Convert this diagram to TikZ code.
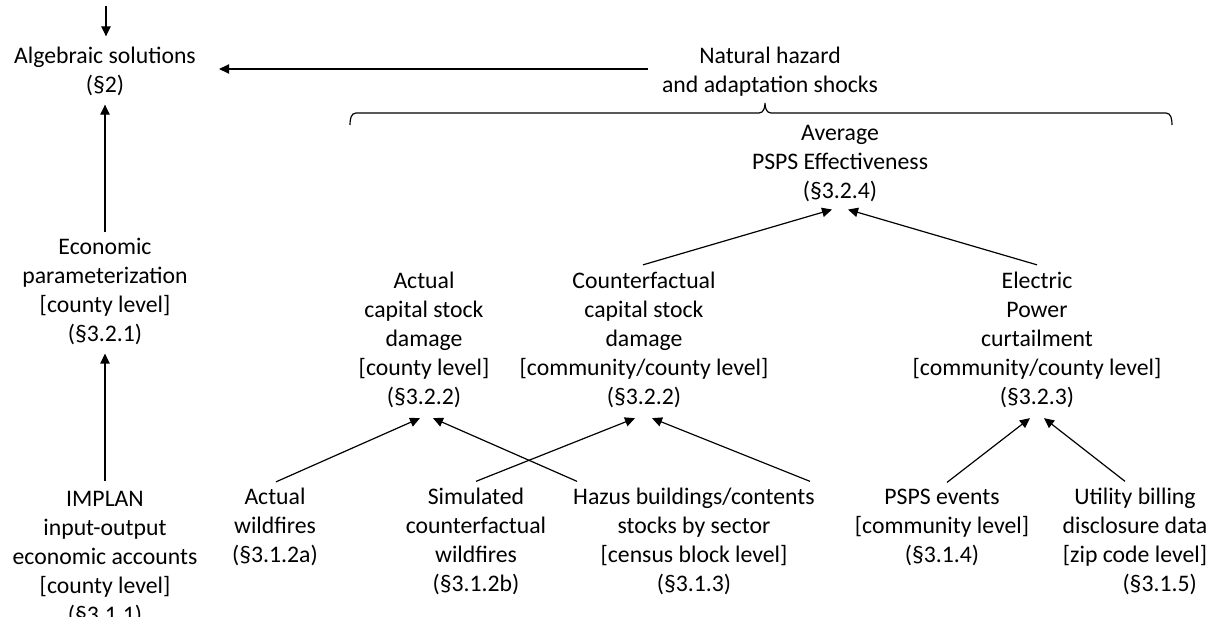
\documentclass[tikz,border=0pt]{standalone}
\usepackage{fontspec}
\setmainfont{Carlito}
\usetikzlibrary{arrows.meta,calc}
\begin{document}
\begin{tikzpicture}[x=0.75pt,y=-0.75pt,
  lbl/.style={align=center,inner sep=0pt,font=\fontsize{17.8pt}{21.75pt}\selectfont},
  conn/.style={line width=0.9pt,-{Triangle[length=7.5pt,width=7pt]}},
  bracestyle/.style={line width=0.9pt}]
\useasboundingbox (0,0) rectangle (1211,617);
% nodes
\node[lbl] (alg) at (105,71) {Algebraic solutions\\(§2)};
\node[lbl] (nat) at (770,72) {Natural hazard\\and adaptation shocks};
\node[lbl] (avg) at (840,164) {Average\\PSPS Effectiveness\\(§3.2.4)};
\node[lbl] (econ) at (105,291) {Economic\\parameterization\\{}[county level]\\(§3.2.1)};
\node[lbl] (act) at (424,340) {Actual\\capital stock\\damage\\{}[county level]\\(§3.2.2)};
\node[lbl] (cf) at (644,340) {Counterfactual\\capital stock\\damage\\{}[community/county level]\\(§3.2.2)};
\node[lbl] (elec) at (1037,340) {Electric\\Power\\curtailment\\{}[community/county level]\\(§3.2.3)};
\node[lbl] (implan) at (105,559) {IMPLAN\\input-output\\economic accounts\\{}[county level]\\(§3.1.1)};
\node[lbl] (aw) at (275,527) {Actual\\wildfires\\(§3.1.2a)};
\node[lbl] (sim) at (476,541) {Simulated\\counterfactual\\wildfires\\(§3.1.2b)};
\node[lbl] (haz) at (694,541) {Hazus buildings/contents\\stocks by sector\\{}[census block level]\\(§3.1.3)};
\node[lbl] (psps) at (942,527) {PSPS events\\{}[community level]\\(§3.1.4)};
\node[lbl] (util) at (1135,541) {Utility billing\\disclosure data\\{}[zip code level]\\\hspace*{37pt}(§3.1.5)};
\coordinate (topin) at (106,6);
% connectors
\draw[conn] (topin) -- ($(alg.north)+(1,-10)$);
\draw[conn] ($(econ.north)+(0,-5)$) -- ($(alg.south)+(0,9)$);
\draw[conn] ($(implan.north)+(0,-10)$) -- ($(econ.south)+(0,9)$);
\draw[conn] ($(nat.west)+(-14,-3)$) -- ($(alg.east)+(23,-2)$);
\draw[conn] ($(cf.north)+(-1,-7)$) -- ($(avg.south)+(-8,7)$);
\draw[conn] ($(elec.north)+(0,-7)$) -- ($(avg.south)+(8,7)$);
\draw[conn] ($(aw.north)+(1,-6)$) -- ($(act.south)+(-4,10)$);
\draw[conn] ($(haz.north)+(-117,-6)$) -- ($(act.south)+(9,10)$);
\draw[conn] ($(sim.north)+(0,-6)$) -- ($(cf.south)+(-9,10)$);
\draw[conn] ($(haz.north)+(116,-6)$) -- ($(cf.south)+(8,10)$);
\draw[conn] ($(psps.north)+(5,-6)$) -- ($(elec.south)+(-7,10)$);
\draw[conn] ($(util.north)+(-10,-6)$) -- ($(elec.south)+(7,10)$);
% brace under the hazard label
\draw[bracestyle] (350,125) to[out=90,in=180] (356,113) -- (759,113)
  to[out=0,in=-90] (765,103) to[out=-90,in=180] (771,113) -- (1166,113)
  to[out=0,in=90] (1172,125);
\end{tikzpicture}
\end{document}
